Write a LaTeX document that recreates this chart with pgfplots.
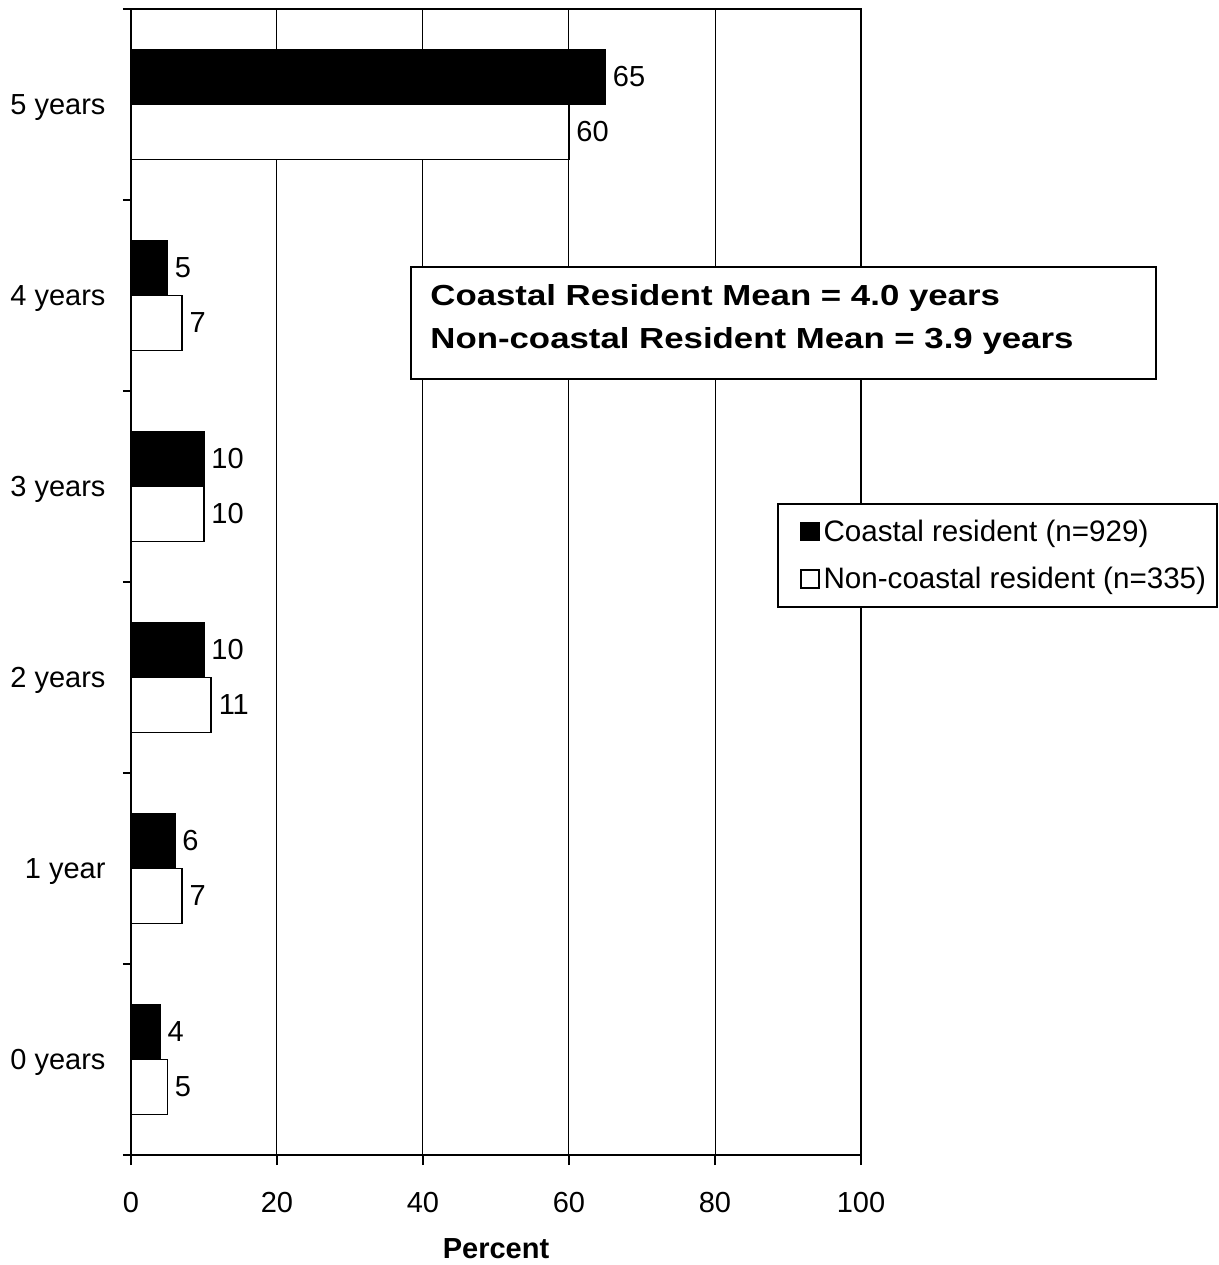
\documentclass[border=0pt]{standalone}
\usepackage{fontspec}
\setmainfont{Liberation Sans}
\newfontfamily\widesans[FakeStretch=1.2]{Liberation Sans}
\usepackage{pgfplots}
\usepackage{pgfplotstable}
\pgfplotsset{compat=1.18}

% Years of residence: share of respondents (percent)
\pgfplotstableread{
pos coastal noncoastal
0   4       5
1   6       7
2   10      11
3   10      10
4   5       7
5   65      60
}\tenure

\newcommand\lbl{\fontsize{14.5}{17}\selectfont}

\pgfplotsset{
  sq legend/.style={
    legend image code/.code={
      \path[draw=none, fill=none] (0pt,-5pt) rectangle (17pt,5pt);
      \draw[##1, line width=0.6pt] (8pt,-4.5pt) rectangle (17pt,4.5pt);
    }
  }
}

\begin{document}
\begin{tikzpicture}
\begin{axis}[
  name=ax,
  scale only axis,
  width=365pt, height=573pt,
  xbar,
  bar width=27.5pt,
  xmin=0, xmax=100,
  ymin=-0.5, ymax=5.5,
  xtick={0,20,...,100},
  ytick={0,...,5},
  yticklabels={0 years,1 year,2 years,3 years,4 years,5 years},
  minor ytick={-0.5,0.5,...,5.5},
  xtick pos=bottom, ytick pos=left,
  tick align=outside,
  major tick length=5pt,
  minor tick length=4pt,
  major y tick style={draw=none},
  tick style={line width=1pt, black},
  minor y tick style={line width=1pt, black},
  axis line style={line width=1pt},
  xmajorgrids,
  major grid style={line width=0.5pt, black},
  /pgf/number format/assume math mode=true,
  tick label style={font=\lbl},
  yticklabel style={anchor=base east, xshift=-4.2pt, yshift=-5.2pt},
  xticklabel style={anchor=base, yshift=-23.5pt},
  xlabel={\bfseries Percent},
  xlabel style={font=\lbl, at={(rel axis cs:0.5,0)}, anchor=base, yshift=-51.5pt},
  point meta=x,
  nodes near coords,
  every node near coord/.append style={font=\lbl, anchor=west, black},
  clip=false,
  legend cell align=left,
  legend style={
    at={(rel axis cs:0.8849,0.5689)}, anchor=north west,
    draw=black, line width=1pt, font=\fontsize{14.8}{17}\selectfont,
    inner xsep=3.5pt, inner ysep=3pt,
    nodes={inner xsep=2pt, inner ysep=4.8pt},
    row sep=1.7pt,
  },
]
\addplot+[sq legend, bar shift=13.75pt, fill=black, draw=black, line width=0.8pt]
  table[x=coastal, y=pos] {\tenure};
\addplot+[sq legend, bar shift=-13.75pt, fill=white, draw=black, line width=0.8pt]
  table[x=noncoastal, y=pos] {\tenure};
\legend{Coastal resident (n=929), Non-coastal resident (n=335)}
\end{axis}

% Summary box with the two means
\draw[line width=1pt, fill=white]
  ([shift={(140pt,388pt)}]ax.south west) rectangle ([shift={(512.5pt,444pt)}]ax.south west);
\node[anchor=base west, inner sep=0pt, font=\lbl\widesans\bfseries]
  at ([shift={(149.5pt,424.5pt)}]ax.south west) {Coastal Resident Mean = 4.0 years};
\node[anchor=base west, inner sep=0pt, font=\lbl\widesans\bfseries]
  at ([shift={(149.5pt,403pt)}]ax.south west) {Non-coastal Resident Mean = 3.9 years};

\pgfresetboundingbox
\path ([shift={(-65.5pt,-55pt)}]ax.south west) rectangle ([shift={(544pt,577.5pt)}]ax.south west);
\end{tikzpicture}
\end{document}
